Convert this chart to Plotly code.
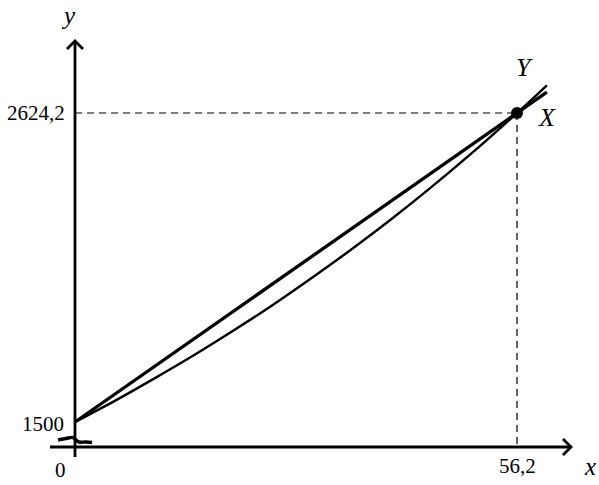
import plotly.graph_objects as go

# ---- data ----
t_vals = [0, 5, 10, 15, 20, 25, 30, 35, 40, 45, 50, 56.2, 60]
y_line = [1500, 1600, 1700, 1800, 1900, 2000, 2100, 2200, 2300, 2400, 2500, 2624.2, 2700]
x_curve = [1500, 1576, 1657, 1741, 1830, 1923, 2022, 2125, 2233, 2347, 2467, 2624.2, 2725]
x_star = 56.2
y_star = 2624.2
y_start = 1500
x_tick_labels = ["0", "56,2"]
y_tick_labels = ["1500", "2624,2"]

# ---- pixel <-> data mapping ----
W, H = 599, 485
X0_PX, X1_PX = 75, 517
Y0_PX, Y1_PX = 422, 113
sx = (X1_PX - X0_PX) / x_star
sy = (Y0_PX - Y1_PX) / (y_star - y_start)
xr = [-X0_PX / sx, (W - X0_PX) / sx]
yr = [y_start - (H - Y0_PX) / sy, y_star + Y1_PX / sy]


def dx(p):
    return (p - X0_PX) / sx


def dy(p):
    return y_start + (Y0_PX - p) / sy


FONT = "Liberation Serif"
fig = go.Figure()

# dashed guides
fig.add_shape(type="line", x0=0, x1=x_star, y0=y_star, y1=y_star,
              line=dict(color="black", width=1.2, dash="7px,5px"), layer="below")
fig.add_shape(type="line", x0=x_star, x1=x_star, y0=y_star, y1=dy(447),
              line=dict(color="black", width=1.2, dash="7px,5px"), layer="below")

# axes
ax_w = 2.8
fig.add_shape(type="line", x0=dx(50), x1=dx(570), y0=dy(447), y1=dy(447),
              line=dict(color="black", width=ax_w))
fig.add_shape(type="line", x0=dx(75), x1=dx(75), y0=dy(457), y1=dy(41),
              line=dict(color="black", width=ax_w))
# arrow heads (chevrons)
fig.add_trace(go.Scatter(x=[dx(563), dx(571), dx(563)], y=[dy(439), dy(447), dy(455)],
                         mode="lines", line=dict(color="black", width=ax_w),
                         hoverinfo="skip", showlegend=False))
fig.add_trace(go.Scatter(x=[dx(67), dx(75), dx(83)], y=[dy(49), dy(41), dy(49)],
                         mode="lines", line=dict(color="black", width=ax_w),
                         hoverinfo="skip", showlegend=False))
# axis break zigzag
zz_px = [58, 66, 73, 76, 79, 86, 92]
zz_py = [440, 438.5, 437.5, 440, 442, 442, 442.5]
fig.add_trace(go.Scatter(x=[dx(p) for p in zz_px], y=[dy(p) for p in zz_py],
                         mode="lines", line=dict(color="black", width=3.4, shape="spline"),
                         hoverinfo="skip", showlegend=False))

# curves
fig.add_trace(go.Scatter(x=t_vals, y=x_curve, mode="lines", line=dict(color="black", width=2.4,
                         shape="spline"), showlegend=False))
fig.add_trace(go.Scatter(x=t_vals, y=y_line, mode="lines", line=dict(color="black", width=3.3),
                         showlegend=False))
fig.add_trace(go.Scatter(x=[x_star], y=[y_star], mode="markers",
                         marker=dict(color="black", size=12), showlegend=False))

# labels
def label(text, xp, yp, size=21, xanchor="center", italic=False):
    t = f"<i>{text}</i>" if italic else text
    fig.add_annotation(x=dx(xp), y=dy(yp), text=t, showarrow=False, xanchor=xanchor,
                       yanchor="middle", font=dict(family=FONT, size=size, color="black"))

label(y_tick_labels[0], 66, 424, xanchor="right")
label(y_tick_labels[1], 67, 113, xanchor="right")
label(x_tick_labels[0], 60, 470)
label(x_tick_labels[1], 517, 466)
label("x", 590, 466, size=25, italic=True)
label("y", 68, 15, size=25, italic=True)
label("Y", 524, 67, size=26, italic=True)
label("X", 547, 117, size=26, italic=True)

fig.update_layout(width=W, height=H, margin=dict(l=0, r=0, t=0, b=0),
                  paper_bgcolor="white", plot_bgcolor="white",
                  xaxis=dict(range=xr, visible=False, fixedrange=True),
                  yaxis=dict(range=yr, visible=False, fixedrange=True))
fig.write_html("out.html", config={"displayModeBar": False})

# remove the default page margin so the figure sits at the window's top-left corner
with open("out.html", "r", encoding="utf-8") as f:
    html = f.read()
html = html.replace("<head>", "<head><style>html,body{margin:0;padding:0;overflow:hidden;}</style>", 1)
with open("out.html", "w", encoding="utf-8") as f:
    f.write(html)
